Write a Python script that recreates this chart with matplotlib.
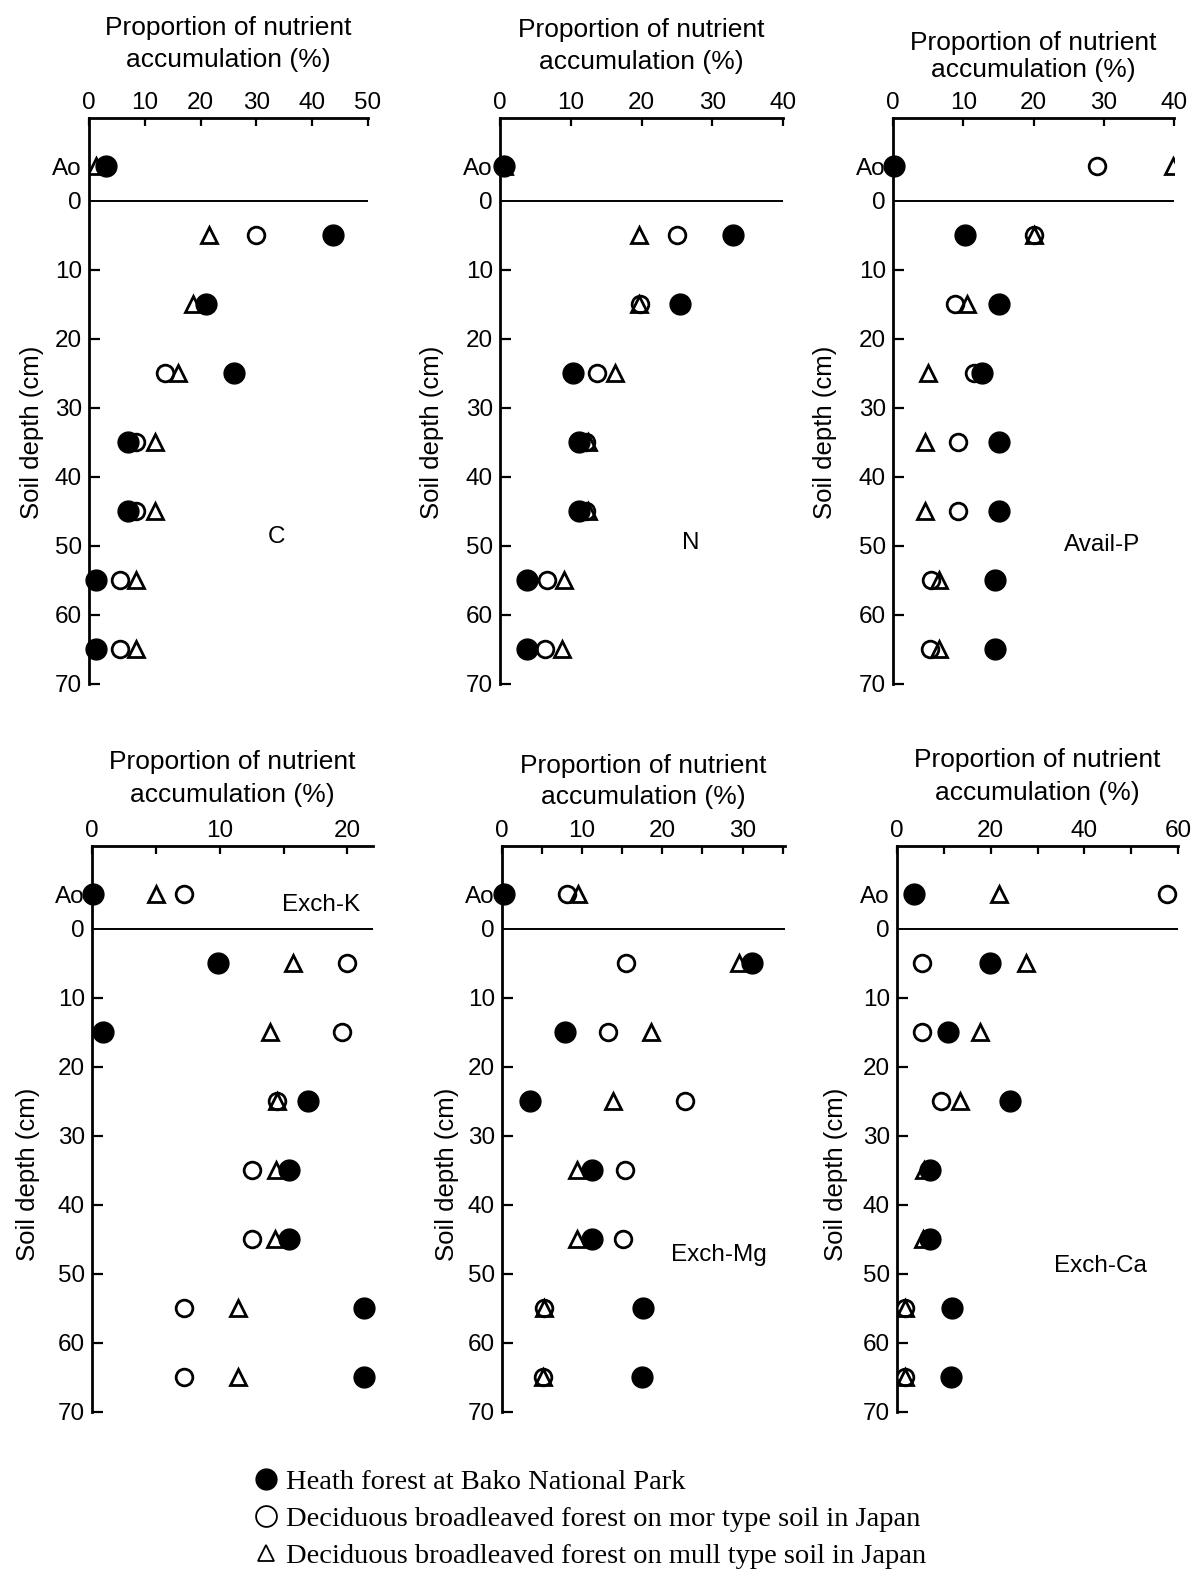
import matplotlib
matplotlib.use('Agg')
import matplotlib.pyplot as plt
from matplotlib.lines import Line2D

W, H = 1193, 1572

# soil layers: Ao horizon drawn above the 0 line, then 10 cm layers
depth = [-5, 5, 15, 25, 35, 45, 55, 65]
ytick_pos = [-5, 0, 10, 20, 30, 40, 50, 60, 70]
ytick_lab = ['Ao', '0', '10', '20', '30', '40', '50', '60', '70']

# C
heath_c = [3.1, 43.7, 21.0, 26.0, 7.0, 7.0, 1.3, 1.3]
mor_c = [3.0, 30.0, 21.0, 13.6, 8.5, 8.5, 5.5, 5.5]
mull_c = [1.3, 21.5, 18.6, 16.0, 11.8, 11.8, 8.4, 8.4]
# N
heath_n = [0.5, 32.9, 25.5, 10.3, 11.2, 11.2, 3.8, 3.8]
mor_n = [0.5, 25.0, 19.8, 13.7, 12.2, 12.2, 6.7, 6.4]
mull_n = [0.5, 19.6, 19.6, 16.3, 12.4, 12.4, 9.0, 8.8]
# Avail-P
heath_p = [0.1, 10.2, 15.1, 12.6, 15.1, 15.1, 14.5, 14.5]
mor_p = [29.0, 20.0, 8.8, 11.5, 9.3, 9.3, 5.4, 5.3]
mull_p = [39.8, 20.0, 10.6, 5.0, 4.6, 4.6, 6.5, 6.5]
# Exch-K
heath_k = [0.1, 9.9, 0.9, 16.9, 15.4, 15.4, 21.3, 21.3]
mor_k = [7.2, 20.0, 19.6, 14.5, 12.5, 12.5, 7.2, 7.2]
mull_k = [5.0, 15.7, 13.9, 14.5, 14.4, 14.3, 11.4, 11.4]
# Exch-Mg
heath_mg = [0.2, 31.2, 7.9, 3.5, 11.2, 11.2, 17.6, 17.5]
mor_mg = [8.1, 15.5, 13.2, 22.8, 15.3, 15.1, 5.2, 5.1]
mull_mg = [9.5, 29.6, 18.6, 13.9, 9.3, 9.3, 5.2, 5.1]
# Exch-Ca
heath_ca = [3.6, 19.9, 10.9, 24.2, 7.1, 7.1, 11.7, 11.5]
mor_ca = [57.7, 5.3, 5.3, 9.3, 7.0, 7.0, 1.8, 1.8]
mull_ca = [21.7, 27.6, 17.8, 13.5, 5.7, 5.6, 1.8, 1.8]

legend_labels = ['Heath forest at Bako National Park',
                 'Deciduous broadleaved forest on mor type soil in Japan',
                 'Deciduous broadleaved forest on mull type soil in Japan']

plt.rcParams['font.family'] = ['Liberation Sans', 'DejaVu Sans']

fig = plt.figure(figsize=(W / 100, H / 100), dpi=100)


def px_box(left, right, top, bottom):
    return [left / W, 1 - bottom / H, (right - left) / W, (bottom - top) / H]


# (name, heath, mor, mull, xmax, major ticks, minor ticks, box px, name pos,
#  ylabel coords, title line y px)
panels = [
    ('C', heath_c, mor_c, mull_c, 50, [0, 10, 20, 30, 40, 50], [],
     (89, 368, 118, 684), (33.6, 48.7), (-0.162, 0.445), (28, 60)),
    ('N', heath_n, mor_n, mull_n, 40, [0, 10, 20, 30, 40], [],
     (500, 783, 118, 684), (26.9, 49.6), (-0.198, 0.445), (30, 62)),
    ('Avail-P', heath_p, mor_p, mull_p, 40, [0, 10, 20, 30, 40], [],
     (893, 1174, 118, 684), (29.8, 49.8), (-0.2, 0.445), (43, 70)),
    ('Exch-K', heath_k, mor_k, mull_k, 22, [0, 10, 20], [5, 15],
     (92, 373, 846, 1412), (17.9, -3.5), (-0.185, 0.42), (762, 795)),
    ('Exch-Mg', heath_mg, mor_mg, mull_mg, 35.3, [0, 10, 20, 30], [5, 15, 25, 35],
     (502, 785, 846, 1412), (27.1, 47.2), (-0.152, 0.42), (766, 797)),
    ('Exch-Ca', heath_ca, mor_ca, mull_ca, 60, [0, 20, 40, 60], [10, 30, 50],
     (897, 1178, 846, 1412), (43.4, 48.9), (-0.175, 0.42), (760, 793)),
]

for name, heath, mor, mull, xmax, major, minor, box, npos, ylc, ttl in panels:
    ax = fig.add_axes(px_box(*box))
    ax.set_xlim(0, xmax)
    ax.set_ylim(70, -12)
    for s in ['right', 'bottom']:
        ax.spines[s].set_visible(False)
    for s in ['left', 'top']:
        ax.spines[s].set_linewidth(2.0)
    ax.axhline(0, color='k', lw=1.4, xmin=0, xmax=1)

    ax.plot(mor, depth, 'o', ls='none', mfc='white', mec='k', mew=2.0, ms=12, zorder=3)
    ax.plot(mull, depth, '^', ls='none', mfc='none', mec='k', mew=2.0, ms=11, zorder=4)
    ax.plot(heath, depth, 'o', ls='none', mfc='k', mec='k', ms=15, zorder=5, clip_on=False)

    ax.xaxis.tick_top()
    ax.set_xticks(major)
    ax.set_xticks(minor, minor=True)
    ax.tick_params(axis='x', which='both', direction='in', length=6, width=1.6,
                   labelsize=17.5, pad=3)
    ax.set_yticks(ytick_pos)
    ax.set_yticklabels(ytick_lab)
    ax.tick_params(axis='y', direction='in', length=8, width=1.6, labelsize=17.5, pad=5)
    for t in ax.yaxis.get_major_ticks()[:2]:
        t.tick1line.set_visible(False)

    ax.set_ylabel('Soil depth (cm)', fontsize=18.5)
    ax.yaxis.set_label_coords(*ylc)
    ax.text(npos[0], npos[1], name, fontsize=17.5, ha='center', va='center')

    cx = (box[0] + box[1]) / 2 / W
    fig.text(cx, 1 - ttl[0] / H, 'Proportion of nutrient', fontsize=19,
             ha='center', va='center')
    fig.text(cx, 1 - ttl[1] / H, 'accumulation (%)', fontsize=19,
             ha='center', va='center')

handles = [
    Line2D([], [], marker='o', ls='none', mfc='k', mec='k', ms=15),
    Line2D([], [], marker='o', ls='none', mfc='white', mec='k', mew=1.3, ms=15),
    Line2D([], [], marker='^', ls='none', mfc='white', mec='k', mew=1.3, ms=12),
]
fig.legend(handles, legend_labels, loc='upper left',
           bbox_to_anchor=(240 / W, 1 - 1455 / H), frameon=False,
           prop={'family': ['Liberation Serif', 'DejaVu Serif'], 'size': 20.5},
           handlelength=0.8, handletextpad=0.3, labelspacing=0.38, borderpad=0)

fig.savefig('out.png', dpi=100)
